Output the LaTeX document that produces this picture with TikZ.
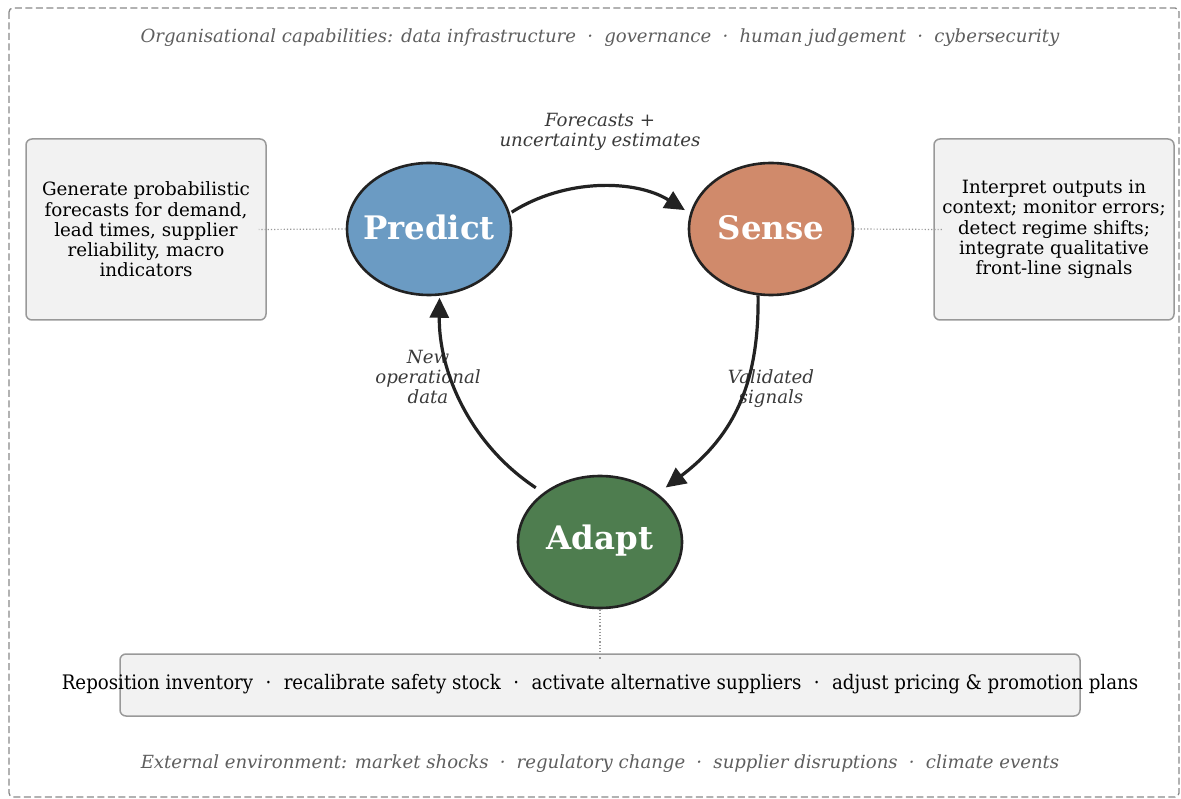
\documentclass[tikz,border=0pt]{standalone}
\usepackage{fontspec}
\setmainfont{DejaVu Serif}
\newfontfamily\condfont{DejaVu Serif}[FakeStretch=0.91]
\usetikzlibrary{arrows.meta,calc,shapes.geometric}
\definecolor{predc}{HTML}{6B9BC3}
\definecolor{sensec}{HTML}{D08A6B}
\definecolor{adaptc}{HTML}{4E7D4F}
\definecolor{boxfill}{HTML}{F2F2F2}
\definecolor{boxdraw}{HTML}{999999}
\definecolor{framec}{HTML}{888888}
\definecolor{ink}{HTML}{222222}
\definecolor{lblc}{HTML}{3A3A3A}
\definecolor{ctxc}{HTML}{5E5E5E}
\newcommand\msep{\hspace{0.62em}·\hspace{0.62em}}
\begin{document}
\begin{tikzpicture}[x=1pt,y=1pt,
 stage/.style={ellipse, draw=ink, line width=2.6pt, minimum width=164pt, minimum height=132pt, inner sep=0pt},
 stagetext/.style={text=white, inner sep=0pt, font=\fontsize{32.4}{36}\selectfont\bfseries},
 infobox/.style={rectangle, rounded corners=6pt, fill=boxfill, draw=boxdraw, line width=1.5pt},
 body/.style={font=\fontsize{18.3}{20.3}\selectfont, align=center, text=black},
 flow/.style={-{Triangle[length=20pt,width=19pt]}, line width=3.2pt, draw=ink},
 flowlbl/.style={font=\fontsize{18.2}{20}\selectfont\itshape, text=lblc, align=center},
 ctx/.style={font=\fontsize{18.1}{20}\selectfont\itshape, text=ctxc},
 leader/.style={draw=boxdraw, dotted, line width=1.2pt}
]
\useasboundingbox (0,0) rectangle (1181,-799);
\draw[framec, dash pattern=on 7pt off 3.5pt, line width=1.3pt, rounded corners=4pt] (9,-8) rectangle (1179,-797);

\node[ctx] (topctx) at (600,-38) {Organisational capabilities: data infrastructure\msep governance\msep human judgement\msep cybersecurity};
\node[ctx] (botctx) at (600,-764) {External environment: market shocks\msep regulatory change\msep supplier disruptions\msep climate events};

\node[infobox, body, minimum width=240pt, minimum height=181pt] (lbox) at (146,-229.5) {Generate probabilistic\\forecasts for demand,\\lead times, supplier\\reliability, macro\\indicators};
\node[infobox, body, minimum width=240pt, minimum height=181pt] (rbox) at (1054,-229.5) {Interpret outputs in\\context; monitor errors;\\detect regime shifts;\\integrate qualitative\\front-line signals};
\node[infobox, minimum width=960pt, minimum height=62pt] (bbox) at (600,-685) {};
\node[body, font=\fontsize{20}{22}\condfont] (btext) at (600,-684.5) {Reposition inventory\msep recalibrate safety stock\msep activate alternative suppliers\msep adjust pricing \& promotion plans};

\node[stage, fill=predc] (P) at (429,-229) {};
\node[stage, fill=sensec] (S) at (771,-229) {};
\node[stage, fill=adaptc] (A) at (600,-542) {};
\node[stagetext] (Pt) at ($(P)+(0,1.5)$) {Predict};
\node[stagetext] (St) at ($(S)+(0,1.5)$) {Sense};
\node[stagetext] (At) at ($(A)+(0,1.5)$) {Adapt};

\draw[leader] (P.west) -- ($(lbox.east)+(-8,0)$);
\draw[leader] (S.east) -- ($(rbox.west)+(9,0)$);
\draw[leader] (A.south) -- ($(bbox.north)+(0,-6)$);

\node[flowlbl] (lfore) at (600,-132) {Forecasts +\\uncertainty estimates};
\node[flowlbl] (lnew) at (428,-377) {New\\operational\\data};
\node[flowlbl] (lval) at (771,-389) {Validated\\signals};

\draw[flow, shorten <=2pt, shorten >=6pt] (P.11) .. controls +(55,35) and +(-55,34) .. (S.169);
\draw[flow, shorten >=10pt] (S.259) .. controls +(1,-85) and +(78,59) .. (A.40);
\draw[flow, shorten <=9pt, shorten >=2pt] (A.139) .. controls +(-74,49) and +(-1,-75) .. (P.279);
\end{tikzpicture}
\end{document}
